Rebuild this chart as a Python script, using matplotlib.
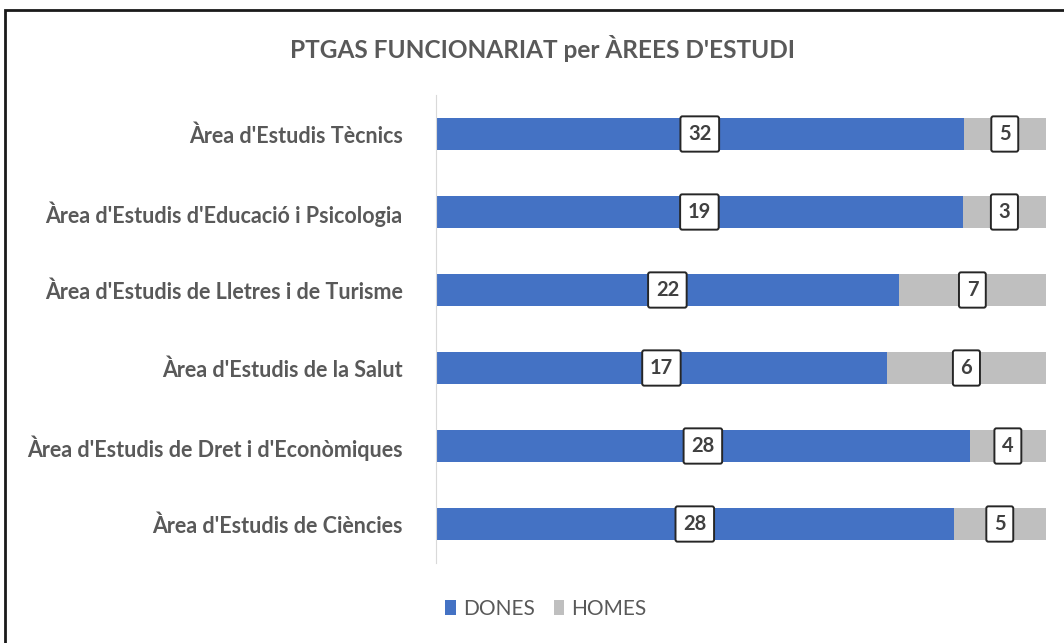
import matplotlib
matplotlib.use("Agg")
import matplotlib.pyplot as plt
from matplotlib.patches import Rectangle

# data, top to bottom as in the chart
areas = ["Àrea d'Estudis Tècnics",
         "Àrea d'Estudis d'Educació i Psicologia",
         "Àrea d'Estudis de Lletres i de Turisme",
         "Àrea d'Estudis de la Salut",
         "Àrea d'Estudis de Dret i d'Econòmiques",
         "Àrea d'Estudis de Ciències"]
dones = [32, 19, 22, 17, 28, 28]
homes = [5, 3, 7, 6, 4, 5]

blue = "#4472C4"
grey = "#BFBFBF"
txt = "#595959"
plt.rcParams['font.family'] = ['Lato', 'DejaVu Sans']

fig = plt.figure(figsize=(10.64, 6.43), dpi=100)
ax = fig.add_axes([436/1064, 1-563/643, 610/1064, 468/643])

ypos = list(range(len(areas)))[::-1]
tot = [d + h for d, h in zip(dones, homes)]
pd_ = [d / t for d, t in zip(dones, tot)]
ph_ = [h / t for h, t in zip(homes, tot)]

b1 = ax.barh(ypos, pd_, height=0.41, color=blue, label="DONES")
b2 = ax.barh(ypos, ph_, left=pd_, height=0.41, color=grey, label="HOMES")

box = dict(boxstyle="round,pad=0.38,rounding_size=0.1", fc="white", ec="#262626", lw=1.4)
for bars, vals in ((b1, dones), (b2, homes)):
    for r, v in zip(bars, vals):
        ax.text(r.get_x() + r.get_width() / 2, r.get_y() + r.get_height() / 2, str(v),
                ha="center", va="center", fontsize=14.5, fontweight="bold",
                color="#404040", bbox=box)

ax.set_xlim(0, 1)
ax.set_ylim(-0.5, len(areas) - 0.5)
ax.set_yticks(ypos)
ax.set_yticklabels(areas, fontsize=15.5, fontweight="bold", color=txt)
ax.tick_params(axis="y", length=0, pad=24)
ax.set_xticks([])
for s in ["top", "right", "bottom"]:
    ax.spines[s].set_visible(False)
ax.spines["left"].set_color("#D9D9D9")

fig.text(542/1064, 1-48/643, "PTGAS FUNCIONARIAT per ÀREES D'ESTUDI",
         ha="center", va="center", fontsize=17.6, fontweight="bold", color=txt)

fig.legend(handles=[b1, b2], loc="center", bbox_to_anchor=(546/1064, 1-609/643),
           ncol=2, frameon=False, fontsize=15, handlelength=0.5, handleheight=0.7,
           columnspacing=0.9, handletextpad=0.35, labelcolor=txt)

# chart frame
fig.patches.append(Rectangle((5/1064, -0.1), 1.2, 1.1 - 10/643, transform=fig.transFigure,
                             fill=False, ec="#1a1a1a", lw=2))

fig.savefig("out.png", dpi=100)
